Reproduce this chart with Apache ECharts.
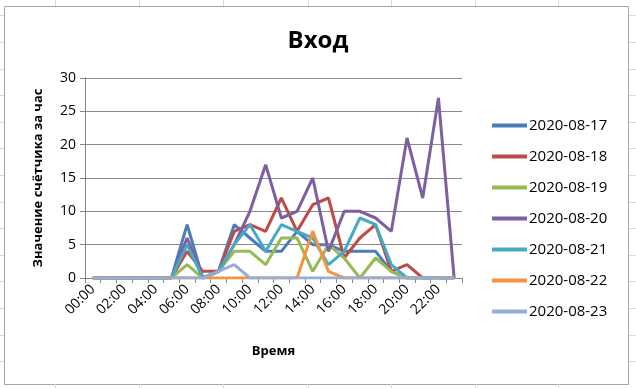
<!DOCTYPE html>
<html>
<head>
<meta charset="utf-8">
<script src="https://cdn.jsdelivr.net/npm/echarts@6/dist/echarts.min.js"></script>
<style>
html,body{margin:0;padding:0;background:#fff;}
#c{width:636px;height:388px;}
</style>
</head>
<body>
<div id="c"></div>
<script>
var hours = ['00:00','01:00','02:00','03:00','04:00','05:00','06:00','07:00','08:00','09:00','10:00','11:00',
             '12:00','13:00','14:00','15:00','16:00','17:00','18:00','19:00','20:00','21:00','22:00','23:00'];
var seriesNames = ['2020-08-17','2020-08-18','2020-08-19','2020-08-20','2020-08-21','2020-08-22','2020-08-23'];
var d0817 = [0,0,0,0,0,0,8,0,1,8,6,4,4,7,5,5,4,4,4,1,0,0,0,0];
var d0818 = [0,0,0,0,0,0,4,1,1,7,8,7,12,7,11,12,3,6,8,1,2,0,0,0];
var d0819 = [0,0,0,0,0,0,2,0,1,4,4,2,6,6,1,5,3,0,3,1,0,0,0,0];
var d0820 = [0,0,0,0,0,0,6,0,1,5,10,17,9,10,15,4,10,10,9,7,21,12,27,0];
var d0821 = [0,0,0,0,0,0,5,0,1,5,8,4,8,7,6,2,4,9,8,2,0,0,0,0];
var d0822 = [0,0,0,0,0,0,0,0,0,0,0,0,0,0,7,1,0,0,0,0,0,0,0,0];
var d0823 = [0,0,0,0,0,0,0,0,1,2,0,0,0,0,0,0,0,0,0,0,0,0,0,0];
var yTicks = {min:0, max:30, step:5};
var seriesData = [d0817,d0818,d0819,d0820,d0821,d0822,d0823];
var colors = ['#4A7EBB','#BE4B48','#98B954','#7D60A0','#46AAC5','#F69240','#94AED5'];

var chart = echarts.init(document.getElementById('c'), null, {renderer:'canvas'});

// spreadsheet cell grid around the chart
var gfx = [];
var cols = [55,139,223,308,391,475,558];
cols.forEach(function(x){
  gfx.push({type:'line', shape:{x1:x+0.5,y1:0,x2:x+0.5,y2:6}, style:{stroke:'#d9d9d9',lineWidth:1}, silent:true});
  gfx.push({type:'line', shape:{x1:x+0.5,y1:384,x2:x+0.5,y2:388}, style:{stroke:'#d9d9d9',lineWidth:1}, silent:true});
});
for (var k=0;k<15;k++){
  var y = Math.round(15.3 + 26.6*k) + 0.5;
  gfx.push({type:'line', shape:{x1:0,y1:y,x2:4,y2:y}, style:{stroke:'#d9d9d9',lineWidth:1}, silent:true});
  gfx.push({type:'line', shape:{x1:629,y1:y,x2:636,y2:y}, style:{stroke:'#d9d9d9',lineWidth:1}, silent:true});
}
gfx.push({type:'rect', shape:{x:4.5,y:6.5,width:624,height:378}, style:{fill:'#fff',stroke:'#a6a6a6',lineWidth:1}, silent:true, z:-1});

var series = seriesNames.map(function(n,i){
  return {
    name:n, type:'line', data:seriesData[i], showSymbol:false, symbol:'none',
    lineStyle:{width:3, color:colors[i]}, itemStyle:{color:colors[i]},
    animation:false
  };
});

chart.setOption({
  animation:false,
  backgroundColor:'#ffffff',
  graphic: gfx,
  title:{
    text:'Вход', left:'center', top:24,
    textStyle:{fontFamily:'Open Sans', fontWeight:'bold', fontSize:24, color:'#000'}
  },
  legend:{
    orient:'vertical', left:492, top:118, padding:0,
    itemWidth:35, itemHeight:4, itemGap:16, icon:'rect',
    textStyle:{fontFamily:'Open Sans', fontSize:15, color:'#000', padding:[0,0,0,-3]},
    data:seriesNames
  },
  grid:{left:85, right:174, top:78, bottom:110, containLabel:false},
  xAxis:{
    type:'category', data:hours, boundaryGap:true,
    name:'Время', nameLocation:'middle', nameGap:67,
    nameTextStyle:{fontFamily:'Open Sans', fontWeight:'bold', fontSize:13, color:'#000'},
    axisLine:{lineStyle:{color:'#868686', width:1}},
    axisTick:{show:true, interval:0, length:5, lineStyle:{color:'#868686'}},
    axisLabel:{interval:1, rotate:45, fontFamily:'Open Sans', fontSize:14, color:'#000', margin:9},
    splitLine:{show:false}
  },
  yAxis:{
    type:'value', min:yTicks.min, max:yTicks.max, interval:yTicks.step,
    name:'Значение счётчика за час', nameLocation:'middle', nameGap:40, nameRotate:90,
    nameTextStyle:{fontFamily:'Open Sans', fontWeight:'bold', fontSize:13, color:'#000'},
    axisLine:{show:true, lineStyle:{color:'#868686', width:1}},
    axisTick:{show:true, length:5, lineStyle:{color:'#868686'}},
    axisLabel:{fontFamily:'Open Sans', fontSize:14, color:'#000', margin:9},
    splitLine:{show:true, lineStyle:{color:'#8a8a8a', width:1}}
  },
  series: series
});
</script>
</body>
</html>
